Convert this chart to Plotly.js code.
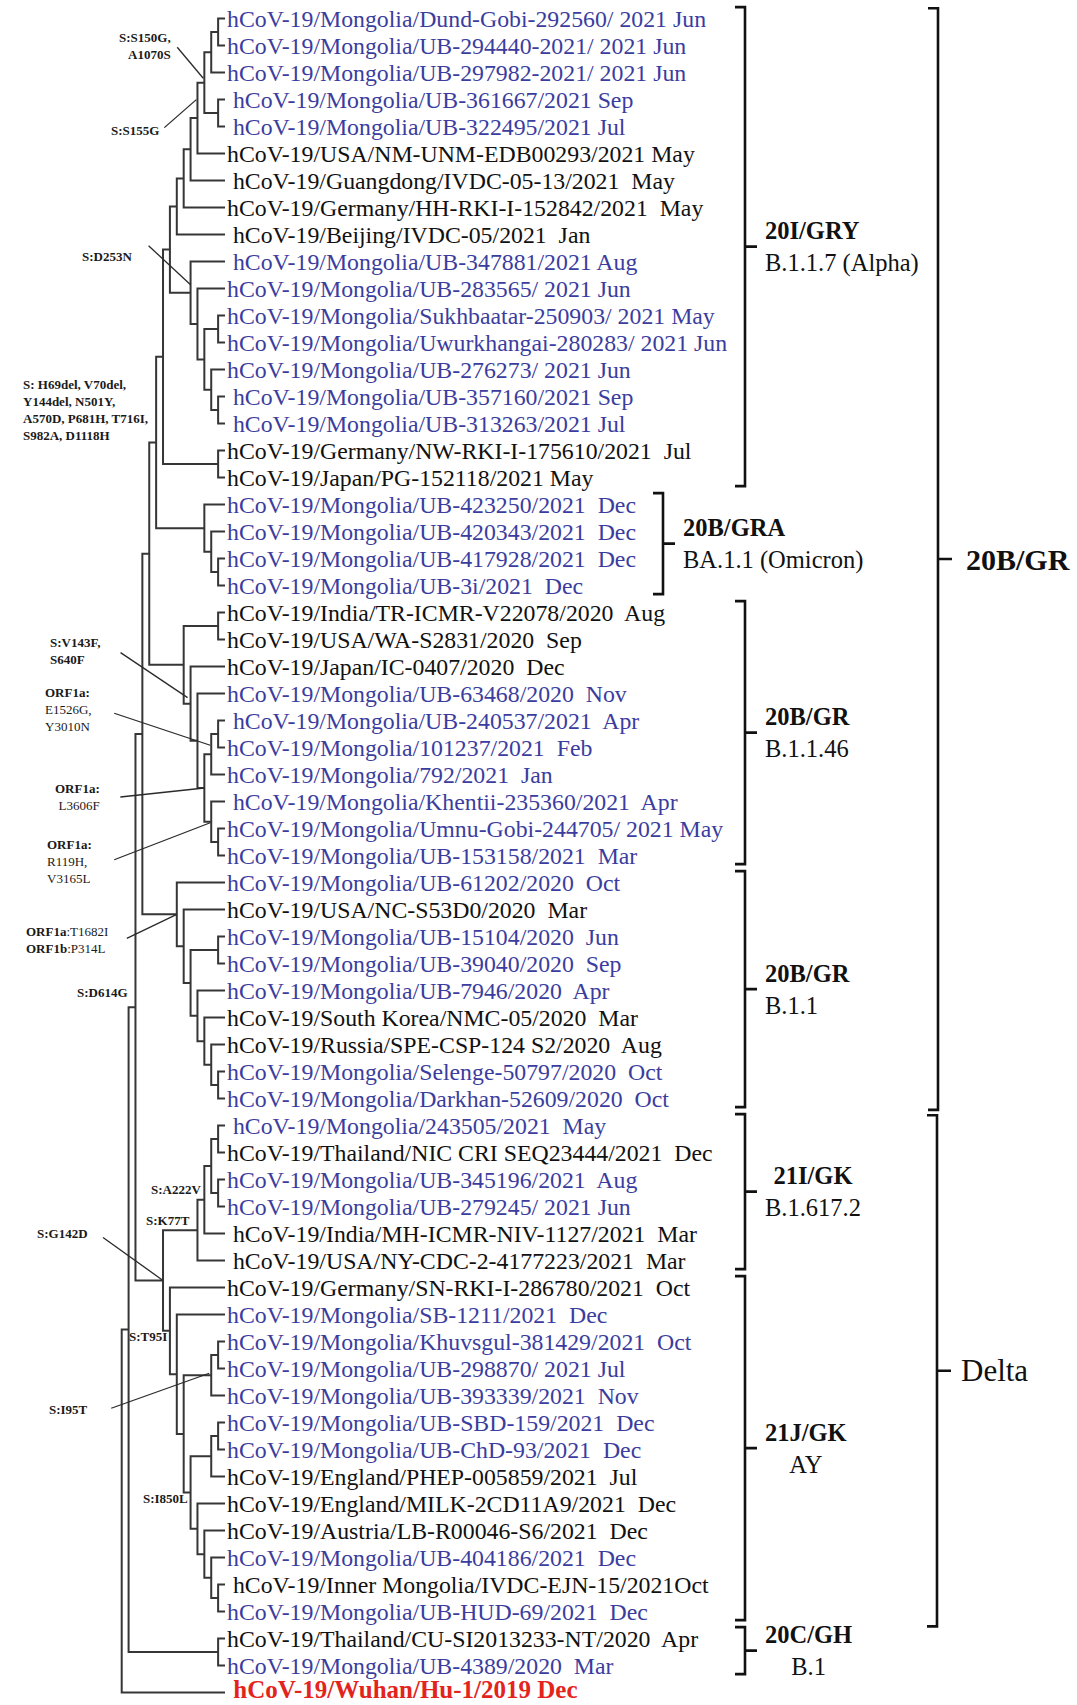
<!DOCTYPE html>
<html><head><meta charset="utf-8">
<script src="https://cdn.plot.ly/plotly-3.0.1.min.js"></script>
<style>html,body{margin:0;padding:0;background:#fff;overflow:hidden}#chart{width:1077px;height:1705px}</style>
</head><body><div id="chart"></div>
<script>
// ---------------- DATA ----------------
const leafLabels = [
"hCoV-19/Mongolia/Dund-Gobi-292560/ 2021 Jun",
"hCoV-19/Mongolia/UB-294440-2021/ 2021 Jun",
"hCoV-19/Mongolia/UB-297982-2021/ 2021 Jun",
" hCoV-19/Mongolia/UB-361667/2021 Sep",
" hCoV-19/Mongolia/UB-322495/2021 Jul",
"hCoV-19/USA/NM-UNM-EDB00293/2021 May",
" hCoV-19/Guangdong/IVDC-05-13/2021  May",
"hCoV-19/Germany/HH-RKI-I-152842/2021  May",
" hCoV-19/Beijing/IVDC-05/2021  Jan",
" hCoV-19/Mongolia/UB-347881/2021 Aug",
"hCoV-19/Mongolia/UB-283565/ 2021 Jun",
"hCoV-19/Mongolia/Sukhbaatar-250903/ 2021 May",
"hCoV-19/Mongolia/Uwurkhangai-280283/ 2021 Jun",
"hCoV-19/Mongolia/UB-276273/ 2021 Jun",
" hCoV-19/Mongolia/UB-357160/2021 Sep",
" hCoV-19/Mongolia/UB-313263/2021 Jul",
"hCoV-19/Germany/NW-RKI-I-175610/2021  Jul",
"hCoV-19/Japan/PG-152118/2021 May",
"hCoV-19/Mongolia/UB-423250/2021  Dec",
"hCoV-19/Mongolia/UB-420343/2021  Dec",
"hCoV-19/Mongolia/UB-417928/2021  Dec",
"hCoV-19/Mongolia/UB-3i/2021  Dec",
"hCoV-19/India/TR-ICMR-V22078/2020  Aug",
"hCoV-19/USA/WA-S2831/2020  Sep",
"hCoV-19/Japan/IC-0407/2020  Dec",
"hCoV-19/Mongolia/UB-63468/2020  Nov",
" hCoV-19/Mongolia/UB-240537/2021  Apr",
"hCoV-19/Mongolia/101237/2021  Feb",
"hCoV-19/Mongolia/792/2021  Jan",
" hCoV-19/Mongolia/Khentii-235360/2021  Apr",
"hCoV-19/Mongolia/Umnu-Gobi-244705/ 2021 May",
"hCoV-19/Mongolia/UB-153158/2021  Mar",
"hCoV-19/Mongolia/UB-61202/2020  Oct",
"hCoV-19/USA/NC-S53D0/2020  Mar",
"hCoV-19/Mongolia/UB-15104/2020  Jun",
"hCoV-19/Mongolia/UB-39040/2020  Sep",
"hCoV-19/Mongolia/UB-7946/2020  Apr",
"hCoV-19/South Korea/NMC-05/2020  Mar",
"hCoV-19/Russia/SPE-CSP-124 S2/2020  Aug",
"hCoV-19/Mongolia/Selenge-50797/2020  Oct",
"hCoV-19/Mongolia/Darkhan-52609/2020  Oct",
" hCoV-19/Mongolia/243505/2021  May",
"hCoV-19/Thailand/NIC CRI SEQ23444/2021  Dec",
"hCoV-19/Mongolia/UB-345196/2021  Aug",
"hCoV-19/Mongolia/UB-279245/ 2021 Jun",
" hCoV-19/India/MH-ICMR-NIV-1127/2021  Mar",
" hCoV-19/USA/NY-CDC-2-4177223/2021  Mar",
"hCoV-19/Germany/SN-RKI-I-286780/2021  Oct",
"hCoV-19/Mongolia/SB-1211/2021  Dec",
"hCoV-19/Mongolia/Khuvsgul-381429/2021  Oct",
"hCoV-19/Mongolia/UB-298870/ 2021 Jul",
"hCoV-19/Mongolia/UB-393339/2021  Nov",
"hCoV-19/Mongolia/UB-SBD-159/2021  Dec",
"hCoV-19/Mongolia/UB-ChD-93/2021  Dec",
"hCoV-19/England/PHEP-005859/2021  Jul",
"hCoV-19/England/MILK-2CD11A9/2021  Dec",
"hCoV-19/Austria/LB-R00046-S6/2021  Dec",
"hCoV-19/Mongolia/UB-404186/2021  Dec",
" hCoV-19/Inner Mongolia/IVDC-EJN-15/2021Oct",
"hCoV-19/Mongolia/UB-HUD-69/2021  Dec",
"hCoV-19/Thailand/CU-SI2013233-NT/2020  Apr",
"hCoV-19/Mongolia/UB-4389/2020  Mar",
" hCoV-19/Wuhan/Hu-1/2019 Dec"
];
// M = Mongolian sample, K = other sample, R = reference (Wuhan)
const leafKind = [
"M","M","M","M","M","K","K","K","K","M",
"M","M","M","M","M","M","K","K","M","M",
"M","M","K","K","K","M","M","M","M","M",
"M","M","M","K","M","M","M","K","K","M",
"M","M","K","M","M","K","K","K","M","M",
"M","M","M","M","K","K","K","M","K","M",
"K","M","R"];

// internal nodes: id, depth level (cladogram), children (leaf index or node id)
const nodeId = ["A","B","C","D","E","F","G","H","M","O","N","L","K","J","I","P","Q","U","T","S","R",
"Y","AD1","AD","AE1","AE","AC","AB","AA","Z","V","AJ","AN","AM","AL","AK","AI","AH","AF","X",
"AS1","AS2","AS","AR","AQ","AW1","AW","AY1","AY","BC","BB","BA","AZ","AX","AV","AU","AT","AO","AG","PP","AP","root"];
const nodeDepth = [14,13,14,12,11,10,9,8,14,14,13,12,11,10,7,14,6,14,13,12,5,
14,14,13,14,13,12,11,10,9,4,14,14,13,12,11,10,9,8,3,
14,14,13,12,11,14,13,14,13,14,13,12,11,10,9,8,7,6,2,14,1,0];
const nodeKids = [[0,1],["A",2],[3,4],["B","C"],["D",5],["E",6],["F",7],["G",8],[11,12],[14,15],[13,"O"],["M","N"],[10,"L"],[9,"K"],["H","J"],[16,17],["I","P"],[20,21],[19,"U"],[18,"T"],["Q","S"],
[22,23],[26,27],["AD1",28],[30,31],[29,"AE1"],["AD","AE"],[25,"AC"],[24,"AB"],["Y","AA"],["R","Z"],[34,35],[39,40],[38,"AN"],[37,"AM"],[36,"AL"],["AJ","AK"],[33,"AI"],[32,"AH"],["V","AF"],
[41,42],[43,44],["AS1","AS2"],["AS",45],["AR",46],[49,50],["AW1",51],[52,53],["AY1",54],[58,59],[57,"BC"],[56,"BB"],[55,"BA"],["AY","AZ"],["AW","AX"],[48,"AV"],[47,"AU"],["AQ","AT"],["X","AO"],[60,61],["AG","PP"],["AP",62]];

// mutation annotations on branches
const mutNode = ["B","D","J","R","AA","AD","AC","AE","AF","AG","AO","AR","AQ","AT","AW","AX"];
const mutText = [
"<b>S:S150G,<br>A1070S</b>",
"<b>S:S155G</b>",
"<b>S:D253N</b>",
"<b>S: H69del, V70del,<br>Y144del, N501Y,<br>A570D, P681H, T716I,<br>S982A, D1118H</b>",
"<b>S:V143F,<br>S640F</b>",
"<b>ORF1a:</b><br>E1526G,<br>Y3010N",
"<b>ORF1a:</b><br>L3606F",
"<b>ORF1a:</b><br>R119H,<br>V3165L",
"<b>ORF1a</b>:T1682I<br><b>ORF1b</b>:P314L",
"<b>S:D614G</b>",
"<b>S:G142D</b>",
"<b>S:A222V</b>",
"<b>S:K77T</b>",
"<b>S:T95I</b>",
"<b>S:I95T</b>",
"<b>S:I850L</b>"];

// clades
const cladeName = ["20I/GRY","20B/GRA","20B/GR","20B/GR","21I/GK","21J/GK","20C/GH"];
const cladeLineage = ["B.1.1.7 (Alpha)","BA.1.1 (Omicron)","B.1.1.46","B.1.1","B.1.617.2","AY","B.1"];
const cladeFirst = [0,18,22,32,41,47,60];
const cladeLast  = [17,21,31,40,46,59,61];
const groupName = ["20B/GR","Delta"];
const groupFirst = [0,41];
const groupLast = [40,59];

// ---------------- LAYOUT CONFIG ----------------
const W = 1077, H = 1705;
const ROOT_PX = 121.7, DEPTH_PX = 6.887, TOP_PX = 18.5, ROW_PX = 27.0;
const LEAF_DEPTH = 15;
const SERIF = "Liberation Serif, Times New Roman, serif";
const BLUE = "#3b3d9e", BLACK = "#111111", RED = "#e3241d";
const TREE_COLOR = "#363636";
// text anchor (right edge) & pointer offsets in px from the node (x right, y down)
const mutPlace = [
 {t:[-39,-6],  al:"right", p:[[-34,-5],[-8,26]]},
 {t:[-44,48],  al:"right", p:[[-40,45],[-8,17]]},
 {t:[-58,-36], al:"right", p:[[-42,-47],[0,-8]]},
 {t:[-7,-32],  al:"left"},
 {t:[-90,-53], al:"left",  p:[[-70,-51],[-3,-6]]},
 {t:[-118,-45],al:"left",  p:[[-97,-41],[-1,-9]]},
 {t:[-103,9],  al:"right", p:[[-84,9],[0,0]]},
 {t:[-118,40], al:"left",  p:[[-97,38],[-1,1]]},
 {t:[-68,26],  al:"left",  p:[[-50,24],[0,0]]},
 {t:[-6,-15],  al:"right"},
 {t:[-74,-47], al:"right", p:[[-60,-43],[0,0]]},
 {t:[-2,-10],  al:"right"},
 {t:[-6,-10],  al:"right"},
 {t:[-2,6],    al:"right"},
 {t:[-122,34], al:"right", p:[[-100,33],[-2,-2]]},
 {t:[-2,6],    al:"right"}
];
const cladeBracketPx = [745,663,745,745,745,745,745];
const cladeAlign = ["left","left","left","left","center","center","center"];
const groupBracketPx = [938,937];

// ---------------- BUILD ----------------
const kidsOf = {}, depthOf = {};
nodeId.forEach((id,k)=>{ kidsOf[id]=nodeKids[k]; depthOf[id]=nodeDepth[k]; });
const yCache = {};
function yOf(ref){
  if (typeof ref === "number") return ref;
  if (yCache[ref] !== undefined) return yCache[ref];
  const k = kidsOf[ref];
  return (yCache[ref] = (yOf(k[0]) + yOf(k[k.length-1]))/2);
}
function xOf(ref){ return typeof ref === "number" ? LEAF_DEPTH : depthOf[ref]; }

const lx = [], ly = [];
nodeId.forEach(id=>{
  const d = depthOf[id], k = kidsOf[id];
  const f = k[0], l = k[k.length-1];
  lx.push(xOf(f), d, d, xOf(l), null);
  ly.push(yOf(f), yOf(f), yOf(l), yOf(l), null);
  for (let j=1;j<k.length-1;j++){ lx.push(d, xOf(k[j]), null); ly.push(yOf(k[j]), yOf(k[j]), null); }
});

const traces = [{
  type:"scatter", mode:"lines", x:lx, y:ly,
  line:{color:TREE_COLOR, width:2, shape:"linear"}, hoverinfo:"skip", showlegend:false
}];

function fmt(t){ return t.replace(/^ /, "\u00A0").replace(/  /g, "\u00A0 "); }
function colorOf(i){ return leafKind[i]==="M"?BLUE:(leafKind[i]==="R"?RED:BLACK); }

const annotations = [];
leafLabels.forEach((t,i)=>{
  const isRef = leafKind[i]==="R";
  annotations.push({xref:"x", yref:"y", x:LEAF_DEPTH, y:i, xanchor:"left", yanchor:"middle",
    showarrow:false, borderpad:0, xshift:1, yshift:isRef?3:0,
    text: isRef ? "<b>"+fmt(t)+"</b>" : fmt(t),
    font:{family:SERIF, size:isRef?25:23.8, color:colorOf(i)}});
});

const shapes = [];
mutNode.forEach((n,k)=>{
  const nx = depthOf[n], ny = yOf(n), pl = mutPlace[k];
  annotations.push({xref:"x", yref:"y", x:nx, y:ny, xanchor:"right", yanchor:"middle", align:pl.al,
    xshift:pl.t[0], yshift:-pl.t[1], showarrow:false, borderpad:0, text:mutText[k],
    font:{family:SERIF, size:13, color:"#1a1a1a"}});
  if (pl.p){
    shapes.push({type:"line", xref:"x", yref:"y",
      x0:nx+pl.p[0][0]/DEPTH_PX, y0:ny+pl.p[0][1]/ROW_PX,
      x1:nx+pl.p[1][0]/DEPTH_PX, y1:ny+pl.p[1][1]/ROW_PX,
      line:{color:"#2a2a2a", width:1.3}});
  }
});

function bracket(xpx, y0, y1, hook, tick, w){
  const xb = xpx/W, xh = (xpx-hook)/W, xt = (xpx+tick)/W, ym = (y0+y1)/2;
  shapes.push({type:"path", xref:"paper", yref:"y",
    path:`M${xh},${y0} L${xb},${y0} L${xb},${y1} L${xh},${y1} M${xb},${ym} L${xt},${ym}`,
    line:{color:"#111", width:w}});
  return ym;
}
cladeName.forEach((c,k)=>{
  const ym = bracket(cladeBracketPx[k], cladeFirst[k]-0.42, cladeLast[k]+0.32, 10, 12, 2.6);
  annotations.push({xref:"paper", yref:"y", x:(cladeBracketPx[k]+19)/W, y:ym, xanchor:"left", yanchor:"middle",
    align:cladeAlign[k], showarrow:false, borderpad:0,
    text:"<b>"+c+"</b><br>"+cladeLineage[k], font:{family:SERIF, size:24.5, color:"#111"}});
});
groupName.forEach((g,k)=>{
  const ym = bracket(groupBracketPx[k], groupFirst[k]-0.38, groupLast[k]+(k===0?0.42:0.55), 10, 14, 2.6);
  annotations.push({xref:"paper", yref:"y", x:(groupBracketPx[k]+(k===0?27:23))/W, y:ym, xanchor:"left", yanchor:"middle",
    showarrow:false, borderpad:0,
    text: k===0 ? "<b>"+g+"</b>" : g, font:{family:SERIF, size:k===0?30:31, color:"#111"}});
});

const layout = {
  width:W, height:H, margin:{l:0,r:0,t:0,b:0},
  paper_bgcolor:"#fff", plot_bgcolor:"#fff", showlegend:false,
  xaxis:{range:[-ROOT_PX/DEPTH_PX, (W-ROOT_PX)/DEPTH_PX], visible:false, fixedrange:true},
  yaxis:{range:[(H-TOP_PX)/ROW_PX, -TOP_PX/ROW_PX], visible:false, fixedrange:true},
  annotations:annotations, shapes:shapes
};
Plotly.newPlot("chart", traces, layout, {displayModeBar:false, staticPlot:true});
</script>
</body></html>
